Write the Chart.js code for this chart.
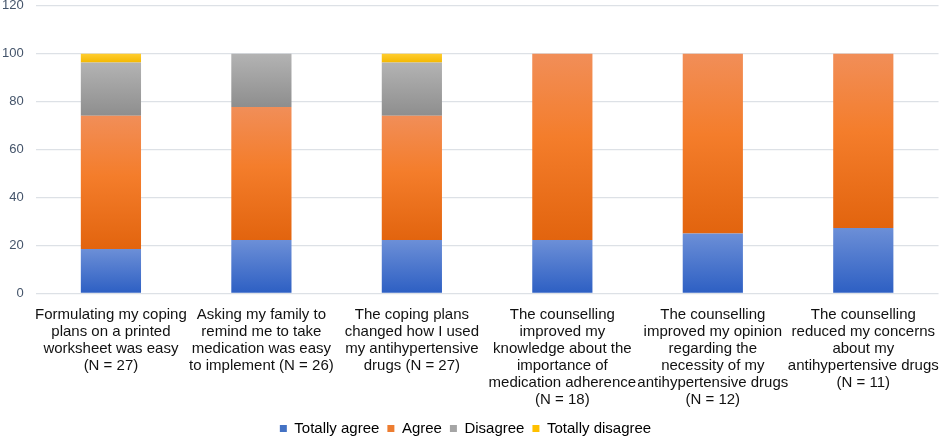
<!DOCTYPE html>
<html>
<head>
<meta charset="utf-8">
<script src="https://cdn.jsdelivr.net/npm/chart.js@4"></script>
<style>
  html, body { margin: 0; padding: 0; background: #fff; overflow: hidden; }
  #page { width: 941px; height: 438px; position: relative; overflow: hidden; }
  #wrap { width: 952px; height: 458px; position: absolute; left: -8px; top: -14px; }
</style>
</head>
<body>
<div id="page"><div id="wrap"><canvas id="surveyChart"></canvas></div></div>
<script>
// Categories (multi-line labels)
const categories = [
    ['Formulating my coping', 'plans on a printed', 'worksheet was easy', '(N = 27)'],
    ['Asking my family to', 'remind me to take', 'medication was easy', 'to implement (N = 26)'],
    ['The coping plans', 'changed how I used', 'my antihypertensive', 'drugs (N = 27)'],
    ['The counselling', 'improved my', 'knowledge about the', 'importance of', 'medication adherence', '(N = 18)'],
    ['The counselling', 'improved my opinion', 'regarding the', 'necessity of my', 'antihypertensive drugs', '(N = 12)'],
    ['The counselling', 'reduced my concerns', 'about my', 'antihypertensive drugs', '(N = 11)']
];

// Percentages per answer
const totallyAgree    = [18.5, 22.2, 22.2, 22.2, 25.0, 27.3];
const agree           = [55.6, 55.6, 51.9, 77.8, 75.0, 72.7];
const disagree        = [22.2, 22.2, 22.2, 0, 0, 0];
const totallyDisagree = [3.7, 0, 3.7, 0, 0, 0];

const yTicks = [0, 20, 40, 60, 80, 100, 120];

const seriesColors = {
    'Totally agree':    ['#6C8FD7', '#2D5FC3', '#4472C4'],
    'Agree':            ['#F18E58', '#F47D2B', '#E2640E', '#ED7D31'],
    'Disagree':         ['#B3B3B3', '#8E8E8E', '#A5A5A5'],
    'Totally disagree': ['#FFCD30', '#F4B800', '#FFC000']
};

// Vertical gradient for each bar segment, light at top, dark at bottom
function segmentFill(label) {
    const cols = seriesColors[label];
    const solid = cols[cols.length - 1];
    return function (context) {
        const chart = context.chart;
        if (!chart.chartArea || context.type !== 'data') return solid;
        const y = chart.scales.y;
        const i = context.dataIndex;
        const dsIdx = context.datasetIndex;
        let base = 0;
        for (let d = 0; d < dsIdx; d++) base += chart.data.datasets[d].data[i];
        const val = chart.data.datasets[dsIdx].data[i];
        const top = y.getPixelForValue(base + val);
        const bottom = y.getPixelForValue(base);
        if (bottom - top < 1) return solid;
        const g = chart.ctx.createLinearGradient(0, top, 0, bottom);
        if (cols.length === 4) {
            g.addColorStop(0, cols[0]);
            g.addColorStop(0.45, cols[1]);
            g.addColorStop(1, cols[2]);
        } else {
            g.addColorStop(0, cols[0]);
            g.addColorStop(1, cols[1]);
        }
        return g;
    };
}

function makeDataset(label, data) {
    const cols = seriesColors[label];
    return {
        label: label,
        data: data,
        backgroundColor: segmentFill(label),
        borderWidth: 0,
        barPercentage: 0.4,
        categoryPercentage: 1.0,
        legendColor: cols[cols.length - 1]
    };
}

document.addEventListener("DOMContentLoaded", function () {
    const ctx = document.getElementById('surveyChart').getContext('2d');
    new Chart(ctx, {
        type: 'bar',
        data: {
            labels: categories,
            datasets: [
                makeDataset('Totally agree', totallyAgree),
                makeDataset('Agree', agree),
                makeDataset('Disagree', disagree),
                makeDataset('Totally disagree', totallyDisagree)
            ]
        },
        options: {
            responsive: true,
            maintainAspectRatio: false,
            animation: false,
            layout: { padding: { left: -2, right: 3, top: -10, bottom: -2 } },
            plugins: {
                tooltip: { enabled: false },
                legend: {
                    position: 'bottom',
                    labels: {
                        boxWidth: 7,
                        boxHeight: 7,
                        padding: 8,
                        color: '#222',
                        font: { family: '"Liberation Sans", Arial, sans-serif', size: 15 },
                        generateLabels: function (chart) {
                            return chart.data.datasets.map((ds, i) => ({
                                text: ds.label,
                                fillStyle: ds.legendColor,
                                strokeStyle: ds.legendColor,
                                lineWidth: 0,
                                datasetIndex: i,
                                hidden: false
                            }));
                        }
                    }
                }
            },
            scales: {
                x: {
                    stacked: true,
                    grid: { display: false },
                    border: { display: false },
                    ticks: {
                        autoSkip: false,
                        maxRotation: 0,
                        minRotation: 0,
                        padding: 5,
                        color: '#111',
                        font: { family: '"Liberation Sans", Arial, sans-serif', size: 15, lineHeight: 1.13 }
                    }
                },
                y: {
                    stacked: true,
                    min: 0,
                    max: 120,
                    afterBuildTicks: function (axis) {
                        axis.ticks = yTicks.map(v => ({ value: v }));
                    },
                    grid: { color: '#DDE1E6', lineWidth: 1.3, drawTicks: false },
                    border: { display: false },
                    ticks: {
                        padding: 12,
                        color: '#44546A',
                        font: { family: '"Liberation Sans", Arial, sans-serif', size: 13 }
                    }
                }
            }
        }
    });
});
</script>
</body>
</html>
